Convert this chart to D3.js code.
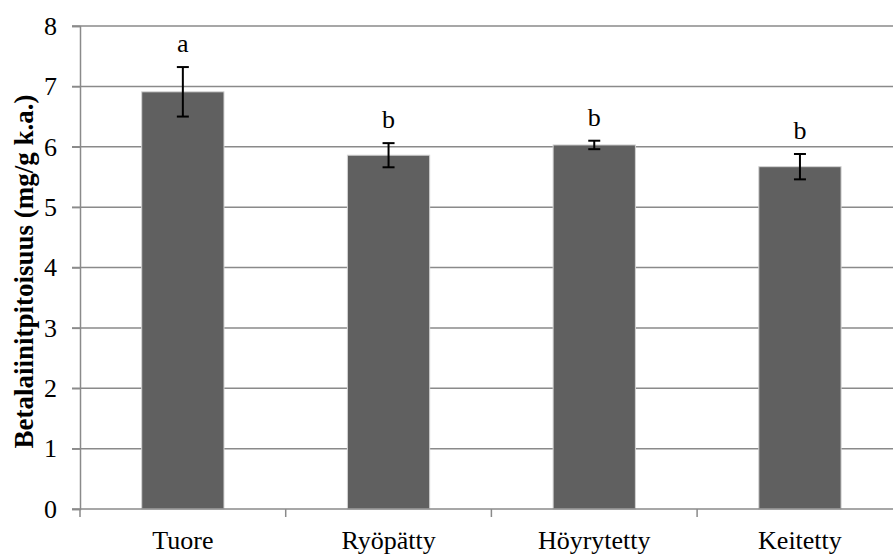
<!DOCTYPE html>
<html>
<head>
<meta charset="utf-8">
<script src="https://cdn.jsdelivr.net/npm/d3@7"></script>
<style>
  html, body { margin: 0; padding: 0; background: #fff; }
  svg { display: block; }
</style>
</head>
<body>
<svg id="chart" width="893" height="554"></svg>
<script>
// Betalain content by treatment (mg/g dry matter)
const categories = ["Tuore", "Ryöpätty", "Höyrytetty", "Keitetty"];
const means = [6.91, 5.86, 6.03, 5.67];
const errors = [0.41, 0.20, 0.07, 0.21];
const groups = ["a", "b", "b", "b"];
const yTicks = [0, 1, 2, 3, 4, 5, 6, 7, 8];
const yTitle = "Betalaiinitpitoisuus (mg/g k.a.)";

const FONT = '"Liberation Serif", "Times New Roman", Times, serif';
const svg = d3.select("#chart");
const W = 893, H = 554;
const m = { left: 80, top: 26, bottom: 45 };
const plotRight = 80 + 4 * 205.7;
const gridColor = "#8a8a8a";

const x = d3.scaleBand()
  .domain(categories)
  .range([m.left, plotRight])
  .paddingInner(0.6)
  .paddingOuter(0.3);

const y = d3.scaleLinear().domain([0, 8]).range([H - m.bottom, m.top]);

// horizontal gridlines
svg.append("g")
  .selectAll("line")
  .data(yTicks.filter(d => d > 0))
  .join("line")
  .attr("x1", m.left - 8)
  .attr("x2", plotRight)
  .attr("y1", d => y(d))
  .attr("y2", d => y(d))
  .attr("stroke", gridColor)
  .attr("stroke-width", 1.5);

// bars
svg.append("g")
  .selectAll("rect")
  .data(categories)
  .join("rect")
  .attr("x", d => x(d))
  .attr("width", x.bandwidth())
  .attr("y", (d, i) => y(means[i]))
  .attr("height", (d, i) => y(0) - y(means[i]))
  .attr("fill", "#606060")
  .attr("stroke", "#d4d4d4")
  .attr("stroke-width", 1);

// y axis
const yAxis = d3.axisLeft(y).tickValues(yTicks).tickSize(8).tickPadding(15);
const gy = svg.append("g").attr("transform", `translate(${m.left},0)`).call(yAxis);
gy.select(".domain").attr("stroke", gridColor).attr("stroke-width", 1.5);
gy.selectAll(".tick line").attr("stroke", gridColor).attr("stroke-width", 1.5);
gy.selectAll(".tick text")
  .style("font-family", FONT)
  .style("font-size", "26px")
  .attr("fill", "#000");

// x axis: ticks at category boundaries
const xBound = d3.scaleLinear().domain([0, 4]).range([m.left, plotRight]);
const gx = svg.append("g").attr("transform", `translate(0,${y(0)})`);
gx.append("line")
  .attr("x1", m.left - 8).attr("x2", plotRight)
  .attr("stroke", gridColor).attr("stroke-width", 1.5);
gx.selectAll("line.tk")
  .data(d3.range(0, 5))
  .join("line")
  .attr("class", "tk")
  .attr("x1", d => xBound(d)).attr("x2", d => xBound(d))
  .attr("y1", 0).attr("y2", 8)
  .attr("stroke", gridColor).attr("stroke-width", 1.5);
gx.selectAll("text")
  .data(categories)
  .join("text")
  .attr("x", d => x(d) + x.bandwidth() / 2)
  .attr("y", 40)
  .attr("text-anchor", "middle")
  .attr("fill", "#000")
  .style("font-family", FONT)
  .style("font-size", "26px")
  .text(d => d);

// error bars
const eg = svg.append("g").attr("stroke", "#000").attr("stroke-width", 2);
categories.forEach((c, i) => {
  const cx = x(c) + x.bandwidth() / 2;
  const top = y(means[i] + errors[i]);
  const bot = y(means[i] - errors[i]);
  eg.append("line").attr("x1", cx).attr("x2", cx).attr("y1", top).attr("y2", bot);
  eg.append("line").attr("x1", cx - 6).attr("x2", cx + 6).attr("y1", top).attr("y2", top);
  eg.append("line").attr("x1", cx - 6).attr("x2", cx + 6).attr("y1", bot).attr("y2", bot);
});

// significance letters
svg.append("g")
  .selectAll("text")
  .data(categories)
  .join("text")
  .attr("x", d => x(d) + x.bandwidth() / 2)
  .attr("y", (d, i) => y(means[i] + errors[i]) - 15)
  .attr("text-anchor", "middle")
  .attr("fill", "#000")
  .style("font-family", FONT)
  .style("font-size", "26px")
  .text((d, i) => groups[i]);

// y axis title
svg.append("text")
  .attr("transform", `translate(33,${(y(0) + y(8)) / 2 + 4}) rotate(-90)`)
  .attr("text-anchor", "middle")
  .attr("fill", "#000")
  .style("font-family", FONT)
  .style("font-size", "27px")
  .style("font-weight", "bold")
  .text(yTitle);
</script>
</body>
</html>
